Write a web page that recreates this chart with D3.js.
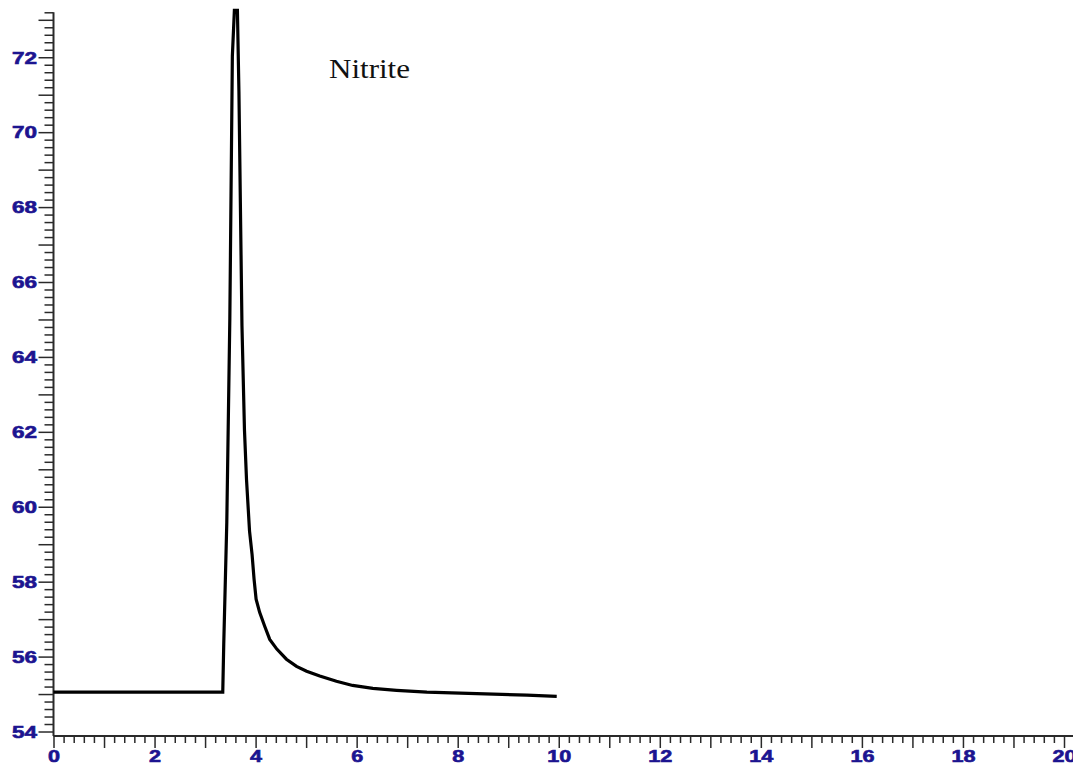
<!DOCTYPE html>
<html>
<head>
<meta charset="utf-8">
<script src="https://cdn.jsdelivr.net/npm/d3@7"></script>
<style>
  body { margin: 0; background: #fff; }
  svg { display: block; }
  .tick text { font-family: "Liberation Sans", Arial, sans-serif; font-weight: bold; font-size: 16px; fill: #1c1490; stroke: #1c1490; stroke-width: 0.6px; }
</style>
</head>
<body>
<svg id="chart" width="1073" height="764"></svg>
<script>
// retention time (min) and detector signal
var times = [0, 3.35, 3.37, 3.43, 3.49, 3.54, 3.58, 3.64, 3.67, 3.73, 3.78, 3.82, 3.88, 3.93, 3.97,
    4.01, 4.08, 4.18, 4.28, 4.42, 4.61, 4.81, 5.01, 5.27, 5.60, 5.92, 6.32, 6.79, 7.39, 9.37, 9.96];
var signal = [55.05, 55.05, 56.36, 59.59, 65.03, 72.03, 73.25, 73.25, 71.09, 64.84, 62.04, 60.73, 59.35, 58.73, 58.06,
    57.53, 57.18, 56.81, 56.46, 56.20, 55.93, 55.74, 55.61, 55.48, 55.34, 55.23, 55.15, 55.10, 55.05, 54.97, 54.94];
var label = "Nitrite";
var xLabels = [0, 2, 4, 6, 8, 10, 12, 14, 16, 18, 20];
var yLabels = [54, 56, 58, 60, 62, 64, 66, 68, 70, 72];

var svg = d3.select("#chart");

var x = d3.scaleLinear().domain([0, 20]).range([53.5, 1064]);
var y = d3.scaleLinear().domain([53.88, 73.2]).range([736, 12.3]);

var data = times.map(function(t, i) { return {t: t, v: signal[i]}; });

var ink = "#2a2a2a";

// y axis: minor ticks every 0.2, longer ones on whole numbers
var yMinor = d3.range(540, 733, 2).map(function(d) { return d / 10; })
    .filter(function(d) { return Math.abs(d - Math.round(d)) > 0.01; });
var yMajor = d3.range(54, 74);

svg.append("g")
    .attr("transform", "translate(" + x(0) + ",0)")
    .call(d3.axisLeft(y).tickValues(yMinor).tickSize(9).tickFormat(""))
    .call(function(g) { g.select(".domain").remove(); });

var gy = svg.append("g")
    .attr("transform", "translate(" + x(0) + ",0)")
    .call(d3.axisLeft(y).tickValues(yMajor).tickSize(15).tickPadding(1.5)
        .tickFormat(function(d) { return yLabels.indexOf(d) >= 0 ? d : ""; }));
gy.select(".domain").remove();
gy.selectAll(".tick text")
    .attr("dy", "0.36em")
    .attr("textLength", function(d) { return yLabels.indexOf(d) >= 0 ? 25 : null; })
    .attr("lengthAdjust", "spacingAndGlyphs");

// x axis
var xMinor = d3.range(0, 201, 2).map(function(d) { return d / 10; })
    .filter(function(d) { return Math.abs(d - Math.round(d)) > 0.01; });
var xMajor = d3.range(0, 21);

svg.append("g")
    .attr("transform", "translate(0,736)")
    .call(d3.axisBottom(x).tickValues(xMinor).tickSize(7).tickFormat(""))
    .call(function(g) { g.select(".domain").remove(); });

var gx = svg.append("g")
    .attr("transform", "translate(0,736)")
    .call(d3.axisBottom(x).tickValues(xMajor).tickSize(12)
        .tickFormat(function(d) { return xLabels.indexOf(d) >= 0 ? d : ""; }));
gx.select(".domain").remove();
gx.selectAll(".tick text")
    .attr("y", 25.5)
    .attr("dy", null)
    .attr("textLength", function(d) { return xLabels.indexOf(d) < 0 ? null : (d >= 10 ? 24 : 12); })
    .attr("lengthAdjust", "spacingAndGlyphs");

svg.selectAll(".tick line").attr("stroke", ink).attr("stroke-width", 1.5);

// axis lines
svg.append("line")
    .attr("x1", x(0)).attr("x2", x(0))
    .attr("y1", y(73.2)).attr("y2", 736)
    .attr("stroke", ink).attr("stroke-width", 2);
svg.append("line")
    .attr("x1", x(0)).attr("x2", 1073)
    .attr("y1", 736).attr("y2", 736)
    .attr("stroke", ink).attr("stroke-width", 2);

// trace
var line = d3.line()
    .x(function(d) { return x(d.t); })
    .y(function(d) { return y(d.v); });

svg.append("path")
    .datum(data)
    .attr("d", line)
    .attr("fill", "none")
    .attr("stroke", "#000")
    .attr("stroke-width", 3.2)
    .attr("stroke-linejoin", "miter");

svg.append("text")
    .attr("x", 329)
    .attr("y", 78)
    .attr("font-family", "'Liberation Serif', 'Times New Roman', serif")
    .attr("font-size", 28)
    .attr("textLength", 81)
    .attr("lengthAdjust", "spacingAndGlyphs")
    .attr("fill", "#111")
    .text(label);
</script>
</body>
</html>
